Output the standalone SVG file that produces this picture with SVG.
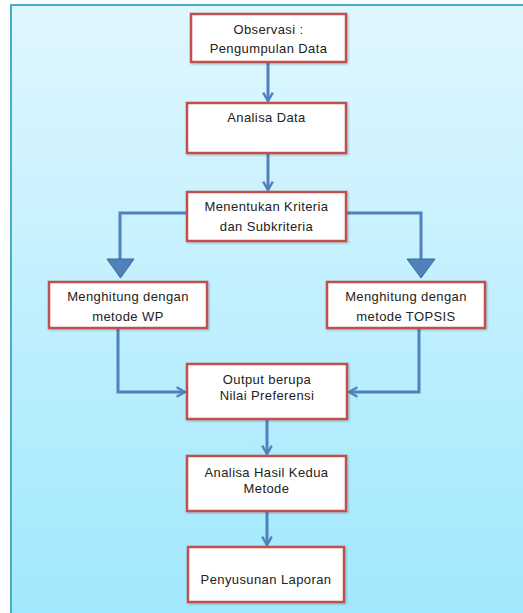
<svg xmlns="http://www.w3.org/2000/svg" width="523" height="613" viewBox="0 0 523 613">
<defs>
<linearGradient id="bg" x1="0" y1="0" x2="0" y2="1">
<stop offset="0" stop-color="#e0f7ff"/>
<stop offset="1" stop-color="#9fe8fd"/>
</linearGradient>
<marker id="ah" viewBox="0 0 10 10" refX="8" refY="5" markerWidth="4" markerHeight="4" orient="auto" markerUnits="strokeWidth">
<path d="M1,1 L8,5 L1,9" fill="none" stroke="#4f81bd" stroke-width="2"/>
</marker>
<filter id="sh" x="-10%" y="-10%" width="130%" height="130%">
<feDropShadow dx="1" dy="1" stdDeviation="0.8" flood-color="#000" flood-opacity="0.25"/>
</filter>
</defs>
<style>
.box{fill:#ffffff;stroke:#c0504d;stroke-width:2.5;filter:url(#sh)}
.t{font-family:"Liberation Sans",Arial,sans-serif;font-size:13px;letter-spacing:0.4px;fill:#222222;text-anchor:middle}
.c{fill:none;stroke:#4f81bd;stroke-width:3}
.tri{fill:#4f81bd;stroke:#3a6a9e;stroke-width:1}
</style>
<rect x="0" y="0" width="523" height="613" fill="#ffffff"/>
<rect x="11" y="5" width="530" height="620" fill="url(#bg)" stroke="#4bacc6" stroke-width="2"/>
<g id="connectors">
<path class="c" d="M268,63 V101" marker-end="url(#ah)"/>
<path class="c" d="M268,153 V190" marker-end="url(#ah)"/>
<path class="c" d="M187,213 H120 V260"/>
<polygon class="tri" points="107,259 134,259 120.5,278"/>
<path class="c" d="M346,213 H421 V260"/>
<polygon class="tri" points="407,259 435,259 421,278"/>
<path class="c" d="M118,328 V392 H185" marker-end="url(#ah)"/>
<path class="c" d="M419,328 V392 H349" marker-end="url(#ah)"/>
<path class="c" d="M267,419 V454" marker-end="url(#ah)"/>
<path class="c" d="M267,511 V545" marker-end="url(#ah)"/>
</g>
<g id="n1"><rect class="box" x="191" y="14" width="155" height="48"/>
<text class="t" x="268.5" y="34">Observasi :</text><text class="t" x="268.5" y="53">Pengumpulan Data</text></g>
<g id="n2"><rect class="box" x="187" y="103" width="159" height="50"/>
<text class="t" x="266.5" y="122">Analisa Data</text></g>
<g id="n3"><rect class="box" x="187" y="192" width="159" height="49"/>
<text class="t" x="266.5" y="211">Menentukan Kriteria</text><text class="t" x="266.5" y="231">dan Subkriteria</text></g>
<g id="n4"><rect class="box" x="49" y="282" width="158" height="46"/>
<text class="t" x="128" y="301">Menghitung dengan</text><text class="t" x="128" y="321">metode WP</text></g>
<g id="n5"><rect class="box" x="327" y="282" width="158" height="46"/>
<text class="t" x="406" y="301">Menghitung dengan</text><text class="t" x="406" y="321">metode TOPSIS</text></g>
<g id="n6"><rect class="box" x="187" y="364" width="160" height="55"/>
<text class="t" x="267" y="384">Output berupa</text><text class="t" x="267" y="400">Nilai Preferensi</text></g>
<g id="n7"><rect class="box" x="187" y="456" width="159" height="55"/>
<text class="t" x="266.5" y="477">Analisa Hasil Kedua</text><text class="t" x="266.5" y="493">Metode</text></g>
<g id="n8"><rect class="box" x="188" y="547" width="156" height="55"/>
<text class="t" x="266" y="584">Penyusunan Laporan</text></g>
</svg>
